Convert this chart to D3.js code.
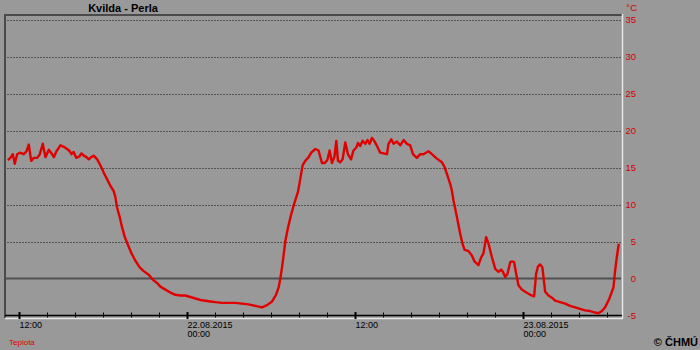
<!DOCTYPE html>
<html>
<head>
<meta charset="utf-8">
<script src="https://cdn.jsdelivr.net/npm/d3@7/dist/d3.min.js"></script>
<style>
  html, body { margin: 0; padding: 0; background: #999999; }
  svg { display: block; }
  text { font-family: "Liberation Sans", Arial, sans-serif; }
</style>
</head>
<body>
<svg id="chart" width="700" height="350"></svg>
<script>
// ---- data (hours since 21.08.2015 00:00, temperature °C) ----
const title = "Kvilda - Perla";
const seriesName = "Teplota";
const unit = "°C";
const copyright = "© ČHMÚ";
const baseDate = new Date(2015, 7, 21, 0, 0);
const hours = [
  11.20,11.39,11.56,11.70,11.87,12.06,12.34,12.54,12.70,12.87,13.06,13.30,13.49,13.70,13.89,14.13,
  14.37,14.49,14.68,14.96,15.20,15.44,15.63,15.75,15.91,16.09,16.32,16.46,16.63,16.82,16.99,17.16,
  17.34,17.59,17.82,18.06,18.30,18.54,18.77,18.89,19.01,19.20,19.37,19.56,19.80,20.04,20.32,20.63,
  20.91,21.27,21.59,21.87,22.11,22.46,22.82,23.18,23.54,23.89,24.25,24.61,24.96,25.32,25.68,26.04,
  26.51,26.99,27.46,27.94,28.41,28.89,29.37,29.73,30.09,30.37,30.56,30.68,30.80,30.91,31.04,31.23,
  31.46,31.70,31.94,32.11,32.27,32.46,32.70,32.89,33.18,33.41,33.66,33.84,34.04,34.20,34.37,34.54,
  34.68,34.80,34.96,35.13,35.32,35.51,35.73,35.91,36.11,36.23,36.39,36.56,36.75,36.91,37.06,37.23,
  37.39,37.59,37.82,38.06,38.30,38.41,38.61,38.77,39.01,39.25,39.49,39.73,39.96,40.16,40.44,40.68,
  40.91,41.27,41.51,41.87,42.23,42.41,42.59,42.82,42.94,43.06,43.30,43.54,43.70,43.84,44.13,44.37,
  44.56,44.84,45.04,45.20,45.39,45.56,45.80,46.04,46.27,46.46,46.59,46.75,46.91,47.11,47.23,47.39,
  47.54,47.70,47.94,48.18,48.54,48.82,48.96,49.09,49.25,49.41,49.49,49.61,49.84,50.09,50.32,50.68,
  51.04,51.39,51.75,52.11,52.46,52.82,53.18,53.41,53.66,53.89,54.20,54.49,54.61,54.73,54.87
];
const temps = [
  16.0,16.3,16.8,15.5,16.8,17.0,16.8,17.2,18.1,15.9,16.3,16.3,16.8,18.2,16.4,17.4,
  16.8,16.4,17.2,18.0,17.8,17.5,17.2,16.8,17.1,16.3,16.5,16.9,16.6,16.4,16.1,16.4,
  16.6,16.1,15.3,14.3,13.4,12.5,11.8,11.0,9.6,8.3,6.9,5.6,4.5,3.4,2.4,1.5,
  1.0,0.5,-0.2,-0.6,-1.1,-1.5,-1.9,-2.2,-2.3,-2.3,-2.5,-2.7,-2.9,-3.0,-3.1,-3.2,
  -3.3,-3.3,-3.3,-3.4,-3.5,-3.7,-3.9,-3.6,-3.1,-2.2,-1.2,0.0,1.5,3.1,5.1,6.9,
  8.7,10.3,11.7,13.5,15.3,15.9,16.4,17.0,17.5,17.3,15.6,15.6,16.0,17.3,15.6,16.4,
  18.6,15.9,15.7,16.1,18.4,16.8,16.1,17.3,17.7,18.3,17.9,18.6,18.2,18.7,18.2,19.0,
  18.6,17.9,17.0,16.9,16.8,18.2,18.8,18.2,18.5,18.0,18.7,18.2,18.0,16.8,16.3,16.8,
  16.8,17.2,16.8,16.2,15.7,15.1,14.1,12.8,11.9,10.5,8.3,6.0,4.7,3.9,3.7,3.1,
  2.3,1.8,2.9,3.4,5.6,4.7,2.9,1.3,0.9,1.2,0.9,0.2,0.6,2.2,2.3,2.2,
  0.6,-0.9,-1.5,-1.8,-2.2,-2.4,0.6,1.6,1.9,1.5,0.2,-1.8,-2.3,-2.6,-3.0,-3.2,
  -3.4,-3.7,-3.9,-4.1,-4.3,-4.4,-4.6,-4.7,-4.4,-3.9,-2.7,-1.2,1.1,2.9,4.7
];
const yTicks = [-5, 0, 5, 10, 15, 20, 25, 30, 35];
const xDomainHours = [11.0, 55.1];

// ---- layout ----
const L = 5, R = 622, T = 15, B = 318;
const hToDate = h => new Date(baseDate.getTime() + h * 3600e3);
const data = hours.map((h, i) => ({ t: hToDate(h), v: temps[i] }));

const x = d3.scaleTime().domain(xDomainHours.map(hToDate)).range([L, R]);
const y = d3.scaleLinear().domain([-5, 35]).range([315.5, 19.5]);

const svg = d3.select("#chart");
svg.append("rect").attr("width", 700).attr("height", 350).attr("fill", "#999999");

// grid lines
const g = svg.append("g");
g.selectAll("line.grid").data(yTicks.filter(v => v > 0)).join("line")
  .attr("x1", L + 2).attr("x2", R - 1)
  .attr("y1", d => Math.round(y(d)) + 0.5).attr("y2", d => Math.round(y(d)) + 0.5)
  .attr("stroke", "#555").attr("stroke-width", 1).attr("stroke-dasharray", "2,1");
// zero line
g.append("line").attr("x1", L + 1).attr("x2", R - 1)
  .attr("y1", y(0)).attr("y2", y(0))
  .attr("stroke", "#505050").attr("stroke-width", 2);

// frame (3D look)
svg.append("line").attr("x1", L - 1).attr("x2", R).attr("y1", T).attr("y2", T)
  .attr("stroke", "#4a4a4a").attr("stroke-width", 2);
svg.append("line").attr("x1", L).attr("x2", L).attr("y1", T).attr("y2", B)
  .attr("stroke", "#4a4a4a").attr("stroke-width", 2);
svg.append("line").attr("x1", R + 0.5).attr("x2", R + 0.5).attr("y1", T - 1).attr("y2", B + 1)
  .attr("stroke", "#e6e6e6").attr("stroke-width", 1.5);
svg.append("line").attr("x1", L).attr("x2", R + 1).attr("y1", B + 0.5).attr("y2", B + 0.5)
  .attr("stroke", "#e6e6e6").attr("stroke-width", 1.5);

// x axis line
svg.append("line").attr("x1", L).attr("x2", R).attr("y1", 315.5).attr("y2", 315.5)
  .attr("stroke", "#000").attr("stroke-width", 1.3);

// ticks
const tickDates = x.ticks(d3.timeHour.every(2));
const isMajor = d => d.getHours() % 12 === 0;
svg.selectAll("line.tick").data(tickDates).join("line")
  .attr("x1", d => Math.round(x(d)) + 0.5).attr("x2", d => Math.round(x(d)) + 0.5)
  .attr("y1", d => isMajor(d) ? 312 : 312.5).attr("y2", d => isMajor(d) ? 319 : 317.5)
  .attr("stroke", "#000").attr("stroke-width", d => isMajor(d) ? 2 : 1);

// tick labels
const fmtDate = d3.timeFormat("%d.%m.%Y");
const fmtTime = d3.timeFormat("%H:%M");
const lbl = svg.selectAll("text.xl").data(tickDates.filter(isMajor)).join("text")
  .attr("x", d => Math.round(x(d)) + 0.5)
  .attr("y", 328)
  .attr("font-size", 9).attr("fill", "#000");
lbl.each(function(d) {
  const t = d3.select(this);
  if (d.getHours() === 0) {
    t.append("tspan").attr("x", Math.round(x(d)) + 0.5).attr("y", 328).text(fmtDate(d));
    t.append("tspan").attr("x", Math.round(x(d)) + 0.5).attr("y", 337).text(fmtTime(d));
  } else {
    t.text(fmtTime(d));
  }
});

// y labels on right
svg.selectAll("text.yl").data(yTicks).join("text")
  .attr("x", 636).attr("y", d => y(d) + 3.5)
  .attr("text-anchor", "end").attr("font-size", 9.5).attr("fill", "#d40000")
  .text(d => d);
svg.append("text").attr("x", 637).attr("y", 11).attr("text-anchor", "end")
  .attr("font-size", 9.5).attr("fill", "#d40000").text(unit);

// data line
const line = d3.line().x(d => x(d.t)).y(d => y(d.v));
svg.append("path").datum(data).attr("d", line)
  .attr("fill", "none").attr("stroke", "#e00000").attr("stroke-width", 2.4)
  .attr("stroke-linejoin", "round");

// title
svg.append("text").attr("x", 123).attr("y", 12).attr("text-anchor", "middle")
  .attr("font-size", 11).attr("font-weight", "bold").attr("fill", "#000").text(title);
// legend
svg.append("text").attr("x", 9).attr("y", 345).attr("font-size", 8)
  .attr("fill", "#e00000").text(seriesName);
// copyright
svg.append("text").attr("x", 698).attr("y", 346).attr("text-anchor", "end")
  .attr("font-size", 11).attr("font-weight", "bold").attr("fill", "#000").text(copyright);
</script>
</body>
</html>
